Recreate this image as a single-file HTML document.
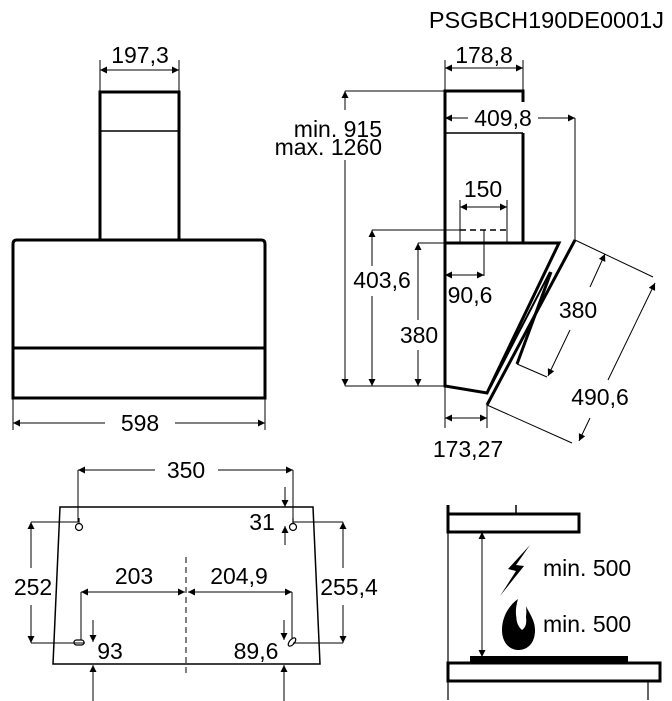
<!DOCTYPE html>
<html><head><style>
html,body{margin:0;padding:0;background:#fff;}
svg{display:block;}
text{font-family:"Liberation Sans",Arial,sans-serif;font-size:23px;fill:#000;}
</style></head><body>
<svg width="672" height="701" viewBox="0 0 672 701" xmlns="http://www.w3.org/2000/svg">
<defs>
<marker id="a" viewBox="0 0 10 10" refX="10" refY="5" markerWidth="11" markerHeight="7" orient="auto-start-reverse" markerUnits="userSpaceOnUse"><path d="M0,0 L10,5 L0,10 z" fill="#000"/></marker>
</defs>
<text x="664" y="28" text-anchor="end" style="font-size:23.5px">PSGBCH190DE0001J</text>

<!-- Front view -->
<g stroke="#000" fill="none">
<rect x="100" y="92" width="79" height="148" stroke-width="3"/>
<line x1="100" y1="131" x2="179" y2="131" stroke-width="1.5"/>
<path d="M13,398 L13,244 Q13,240 17,240 L261,240 Q265,240 265,244 L265,398 Z" stroke-width="3"/>
<line x1="13" y1="348" x2="265" y2="348" stroke-width="3"/>
<g stroke-width="1">
<line x1="100" y1="92" x2="100" y2="60"/><line x1="179" y1="92" x2="179" y2="60"/>
<line x1="100" y1="70" x2="179" y2="70" marker-start="url(#a)" marker-end="url(#a)"/>
<line x1="13" y1="398" x2="13" y2="430"/><line x1="265" y1="398" x2="265" y2="430"/>
<line x1="13" y1="423" x2="105" y2="423" marker-start="url(#a)"/>
<line x1="175" y1="423" x2="265" y2="423" marker-end="url(#a)"/>
</g>
</g>
<text x="140" y="63" text-anchor="middle">197,3</text>
<text x="140" y="431" text-anchor="middle">598</text>

<!-- Side view -->
<g stroke="#000" fill="none">
<path d="M523,102 L523,91 L445,91 L445,243" stroke-width="3"/>
<line x1="445" y1="133" x2="523" y2="133" stroke-width="1.5"/>
<line x1="523" y1="133" x2="523" y2="243" stroke-width="3"/>
<path d="M445,243 L559,243 L487,393 L445,386 Z" stroke-width="3"/>
<line x1="550" y1="272" x2="490" y2="388" stroke-width="2"/>
<line x1="575" y1="240" x2="487" y2="405" stroke-width="3"/>
<line x1="551" y1="272" x2="517" y2="364" stroke-width="3"/>
<g stroke-width="1">
<line x1="575" y1="240" x2="653" y2="277"/>
<line x1="487" y1="405" x2="572" y2="443"/>
<line x1="517" y1="364" x2="547" y2="377"/>
<line x1="605" y1="254" x2="590" y2="287" marker-start="url(#a)"/>
<line x1="570" y1="330" x2="548" y2="376" marker-end="url(#a)"/>
<line x1="655" y1="283" x2="608" y2="380" marker-start="url(#a)"/>
<line x1="590" y1="418" x2="579" y2="441" marker-end="url(#a)"/>
<line x1="445" y1="91" x2="445" y2="60"/><line x1="523" y1="91" x2="523" y2="60"/>
<line x1="445" y1="68" x2="523" y2="68" marker-start="url(#a)" marker-end="url(#a)"/>
<line x1="445" y1="118" x2="468" y2="118" marker-start="url(#a)"/>
<line x1="538" y1="118" x2="575" y2="118" marker-end="url(#a)"/>
<line x1="575" y1="118" x2="575" y2="240"/>
<line x1="345" y1="91" x2="445" y2="91"/>
<line x1="345" y1="386" x2="445" y2="386"/>
<line x1="345" y1="91" x2="345" y2="110" marker-start="url(#a)"/>
<line x1="345" y1="160" x2="345" y2="386" marker-end="url(#a)"/>
<line x1="372" y1="230" x2="460" y2="230"/>
<line x1="372" y1="230" x2="372" y2="266" marker-start="url(#a)"/>
<line x1="372" y1="296" x2="372" y2="386" marker-end="url(#a)"/>
<line x1="418" y1="243" x2="445" y2="243"/>
<line x1="418" y1="243" x2="418" y2="320" marker-start="url(#a)"/>
<line x1="418" y1="350" x2="418" y2="386" marker-end="url(#a)"/>
<line x1="460" y1="200" x2="460" y2="243"/><line x1="507" y1="200" x2="507" y2="243"/>
<line x1="460" y1="207" x2="507" y2="207" marker-start="url(#a)" marker-end="url(#a)"/>
<line x1="460" y1="230" x2="507" y2="230" stroke-dasharray="6,4" stroke-width="1.5"/>
<line x1="484" y1="230" x2="484" y2="276"/>
<line x1="445" y1="275" x2="484" y2="275" marker-start="url(#a)" marker-end="url(#a)"/>
<line x1="445" y1="386" x2="445" y2="428"/><line x1="487" y1="405" x2="487" y2="428"/>
<line x1="445" y1="418" x2="487" y2="418" marker-start="url(#a)" marker-end="url(#a)"/>
</g>
</g>
<text x="484" y="63" text-anchor="middle">178,8</text>
<text x="503" y="126" text-anchor="middle">409,8</text>
<text x="382" y="137" text-anchor="end">min. 915</text>
<text x="382" y="155" text-anchor="end">max. 1260</text>
<text x="382" y="288" text-anchor="middle">403,6</text>
<text x="419" y="343" text-anchor="middle">380</text>
<text x="483" y="197" text-anchor="middle">150</text>
<text x="470" y="303" text-anchor="middle">90,6</text>
<text x="578" y="318" text-anchor="middle">380</text>
<text x="600" y="405" text-anchor="middle">490,6</text>
<text x="468" y="457" text-anchor="middle">173,27</text>

<!-- Bottom left -->
<g stroke="#000" fill="none" stroke-width="1.5">
<path d="M60,507 L313,507 L320,664 L53,664 Z"/>
<line x1="186" y1="557" x2="186" y2="676" stroke-width="1" stroke-dasharray="6,4"/>
<g stroke-width="1.2">
<circle cx="79" cy="527" r="3.5"/><line x1="79" y1="518" x2="79" y2="523"/>
<circle cx="293" cy="527" r="3.5"/><line x1="293" y1="518" x2="293" y2="523"/>
<rect x="74" y="640" width="10" height="5" rx="2.5"/>
<ellipse cx="292" cy="642" rx="2.5" ry="5" transform="rotate(40 292 642)"/>
</g>
<g stroke-width="1">
<line x1="78" y1="470" x2="78" y2="522"/><line x1="293" y1="470" x2="293" y2="522"/>
<line x1="78" y1="470" x2="155" y2="470" marker-start="url(#a)"/>
<line x1="218" y1="470" x2="293" y2="470" marker-end="url(#a)"/>
<line x1="285" y1="487" x2="285" y2="507" marker-end="url(#a)"/>
<line x1="285" y1="545" x2="285" y2="526" marker-end="url(#a)"/>
<line x1="31" y1="522" x2="78" y2="522"/><line x1="31" y1="643" x2="85" y2="643"/>
<line x1="31" y1="522" x2="31" y2="568" marker-start="url(#a)"/>
<line x1="31" y1="605" x2="31" y2="643" marker-end="url(#a)"/>
<line x1="293" y1="522" x2="343" y2="522"/><line x1="293" y1="643" x2="343" y2="643"/>
<line x1="343" y1="522" x2="343" y2="568" marker-start="url(#a)"/>
<line x1="343" y1="605" x2="343" y2="643" marker-end="url(#a)"/>
<line x1="81" y1="592" x2="81" y2="640"/><line x1="292" y1="592" x2="292" y2="638"/>
<line x1="81" y1="592" x2="185" y2="592" marker-start="url(#a)" marker-end="url(#a)"/>
<line x1="188" y1="592" x2="292" y2="592" marker-start="url(#a)" marker-end="url(#a)"/>
<line x1="93" y1="620" x2="93" y2="642" marker-end="url(#a)"/>
<line x1="93" y1="701" x2="93" y2="665" marker-end="url(#a)"/>
<line x1="284" y1="620" x2="284" y2="640" marker-end="url(#a)"/>
<line x1="284" y1="701" x2="284" y2="665" marker-end="url(#a)"/>
</g>
</g>
<text x="186" y="478" text-anchor="middle">350</text>
<text x="262" y="530" text-anchor="middle">31</text>
<text x="33" y="595" text-anchor="middle">252</text>
<text x="349" y="595" text-anchor="middle">255,4</text>
<text x="134" y="584" text-anchor="middle">203</text>
<text x="239" y="584" text-anchor="middle">204,9</text>
<text x="110" y="659" text-anchor="middle">93</text>
<text x="256" y="659" text-anchor="middle">89,6</text>

<!-- Bottom right -->
<g stroke="#000" fill="none">
<line x1="448" y1="505" x2="448" y2="532" stroke-width="3"/>
<rect x="448" y="514" width="131" height="18" stroke-width="3"/>
<line x1="516" y1="505" x2="516" y2="514" stroke-width="1.5"/>
<line x1="448" y1="532" x2="448" y2="700" stroke-width="1.2"/>
<rect x="448" y="663" width="212" height="18" stroke-width="3"/>
<line x1="648" y1="681" x2="648" y2="700" stroke-width="1.2"/>
<line x1="482" y1="532" x2="482" y2="657" stroke-width="1" marker-start="url(#a)" marker-end="url(#a)"/>
</g>
<rect x="470" y="656" width="158" height="7" fill="#000"/>
<path d="M530,545 L508,569 L516,571 L500,596 L524,566 L516,565 Z" fill="#000"/>
<path d="M518,599 C508,606 502,618 502,630 C502,643 510,650 518,650 C528,650 535,643 535,630 C535,620 529,613 526,606 C527,615 526,622 521,624 C516,622 514,612 518,599 Z" fill="#000"/>
<path d="M520,605 C514,615 516,625 522,630 C528,626 528,615 520,605 Z" fill="#fff"/>
<text x="543" y="576">min. 500</text>
<text x="543" y="632">min. 500</text>
</svg>
</body></html>
